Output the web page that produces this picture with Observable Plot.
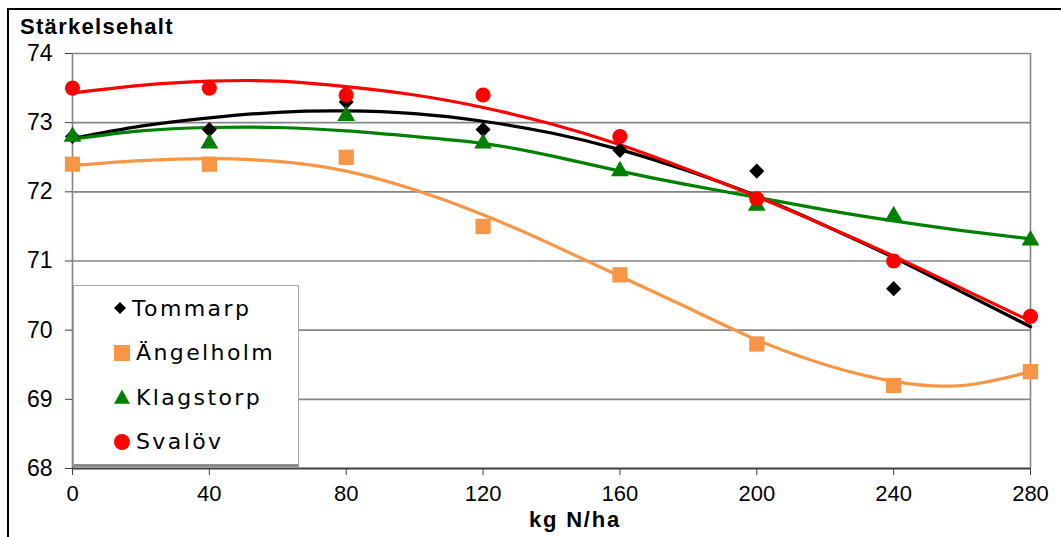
<!DOCTYPE html>
<html>
<head>
<meta charset="utf-8">
<script src="https://cdn.jsdelivr.net/npm/d3@7"></script>
<script src="https://cdn.jsdelivr.net/npm/@observablehq/plot@0.6"></script>
<style>
  html, body { margin: 0; padding: 0; background: #fff; }
  #wrap { position: relative; width: 1061px; height: 537px; overflow: hidden; font-family: "Liberation Sans", Arial, sans-serif; }
  #border { position: absolute; left: 7px; top: 8px; width: 1100px; height: 600px; border-top: 2.5px solid #000; border-left: 2.5px solid #000; }
  #title { position: absolute; left: 20px; top: 14px; font-weight: bold; font-size: 22px; letter-spacing: 1.3px; }
  #xlabel { position: absolute; left: 529px; top: 507px; font-weight: bold; font-size: 22px; letter-spacing: 1.8px; }
  #legend { position: absolute; left: 73px; top: 285px; width: 224px; height: 178px; background: #fff; border: 1px solid #a6a6a6; border-bottom: 3px solid #8c8c8c; }
  .row { position: absolute; left: 0; height: 30px; display: flex; align-items: center; font-family: "DejaVu Sans", sans-serif; font-size: 22px; letter-spacing: 2.4px; }
  .row svg { margin-left: 40px; margin-right: 6px; }
  #chart { position: absolute; left: 0; top: 0; }
</style>
</head>
<body>
<div id="wrap">
  <div id="chart"></div>
  <div id="border"></div>
  <div id="title"></div>
  <div id="xlabel"></div>
  <div id="legend"></div>
</div>
<script>
// ---- data ----
const titleText = "Stärkelsehalt";
const xLabelText = "kg N/ha";
const seriesNames = ["Tommarp", "Ängelholm", "Klagstorp", "Svalöv"];
const seriesColors = ["#000000", "#F79646", "#008000", "#FF0000"];
const seriesSymbols = ["diamond2", "square", "triangle", "circle"];
const xTicks = [0, 40, 80, 120, 160, 200, 240, 280];
const yTicks = [68, 69, 70, 71, 72, 73, 74];

const kg = [0, 40, 80, 120, 160, 200, 240, 280];
const tommarp   = [72.8, 72.9, 73.3, 72.9, 72.6, 72.3, 70.6, 70.2];
const angelholm = [72.4, 72.4, 72.5, 71.5, 70.8, 69.8, 69.2, 69.4];
const klagstorp = [72.8, 72.7, 73.1, 72.7, 72.3, 71.8, 71.65, 71.3];
const svalov    = [73.5, 73.5, 73.4, 73.4, 72.8, 71.9, 71.0, 70.2];

// trendlines
const trendKg = [0, 20, 40, 60, 80, 100, 120, 140, 160, 180, 200, 220, 240, 260, 280];
const tommarpTrend   = [72.77, 72.95, 73.07, 73.15, 73.17, 73.13, 73.02, 72.85, 72.61, 72.3, 71.94, 71.51, 71.05, 70.55, 70.05];
const angelholmTrend = [72.38, 72.45, 72.48, 72.44, 72.3, 72.03, 71.67, 71.24, 70.78, 70.32, 69.86, 69.5, 69.26, 69.2, 69.4];
const klagstorpTrend = [72.76, 72.88, 72.93, 72.93, 72.88, 72.8, 72.7, 72.52, 72.3, 72.1, 71.92, 71.74, 71.58, 71.44, 71.32];
const svalovTrend    = [73.43, 73.54, 73.6, 73.6, 73.52, 73.4, 73.22, 72.98, 72.68, 72.32, 71.93, 71.51, 71.07, 70.6, 70.13];

// ---- build tables ----
const seriesVals = [tommarp, angelholm, klagstorp, svalov];
const seriesTrend = [tommarpTrend, angelholmTrend, klagstorpTrend, svalovTrend];
const points = seriesNames.map((name, s) => kg.map((k, i) => ({k, v: seriesVals[s][i], name})));
const trends = seriesNames.flatMap((name, s) => trendKg.map((k, i) => ({k, v: seriesTrend[s][i], name})));
const dotR = [6.8, 8.6, 6.6, 7.6];

const chart = Plot.plot({
  width: 1061,
  height: 537,
  marginLeft: 72,
  marginRight: 31,
  marginTop: 53,
  marginBottom: 69,
  style: {fontFamily: "'Liberation Sans', Arial, sans-serif", fontSize: "22px", color: "#000", background: "transparent"},
  x: {domain: [0, 280]},
  y: {domain: [68, 74]},
  color: {domain: seriesNames, range: seriesColors},
  symbol: {domain: seriesNames, range: seriesSymbols},
  marks: [
    Plot.gridY(yTicks.slice(1), {stroke: "#868686", strokeOpacity: 1, strokeWidth: 1.6}),
    Plot.ruleX([0], {stroke: "#868686", strokeWidth: 1.6}),
    Plot.ruleX([280], {stroke: "#868686", strokeWidth: 1.6}),
    Plot.ruleY([68], {stroke: "#404040", strokeWidth: 2}),
    Plot.axisY({ticks: yTicks, tickFormat: d3.format("d"), tickSize: 7, tickPadding: 13, label: null, fontSize: 23, stroke: "#404040"}),
    Plot.axisX({ticks: xTicks, tickFormat: d3.format("d"), tickSize: 7, tickPadding: 10, label: null, fontSize: 22, stroke: "#404040"}),
    Plot.line(trends, {x: "k", y: "v", z: "name", stroke: "name", curve: "natural", strokeWidth: 3.2}),
    ...points.map((pts, s) => Plot.dot(pts, {x: "k", y: "v", symbol: "name", fill: "name", r: dotR[s], stroke: "none"}))
  ]
});
document.getElementById("chart").appendChild(chart);
document.getElementById("title").textContent = titleText;
document.getElementById("xlabel").textContent = xLabelText;

// legend
const legend = document.getElementById("legend");
const legendShapes = {
  diamond2: '<path d="M7,0L14,7L7,14L0,7Z"/>',
  square: '<rect x="0" y="0" width="14" height="14"/>',
  triangle: '<path d="M7,0.5L14,13L0,13Z"/>',
  circle: '<circle cx="7" cy="7" r="7"/>'
};
seriesNames.forEach((name, i) => {
  const row = document.createElement("div");
  row.className = "row";
  row.style.top = (7 + i * 44.5) + "px";
  const sym = seriesSymbols[i];
  const sz = sym === "diamond2" ? 12 : 16;
  row.innerHTML = `<svg width="${sz}" height="${sz}" viewBox="0 0 14 14" style="fill:${seriesColors[i]}">${legendShapes[sym]}</svg><span>${name}</span>`;
  legend.appendChild(row);
});
</script>
</body>
</html>
